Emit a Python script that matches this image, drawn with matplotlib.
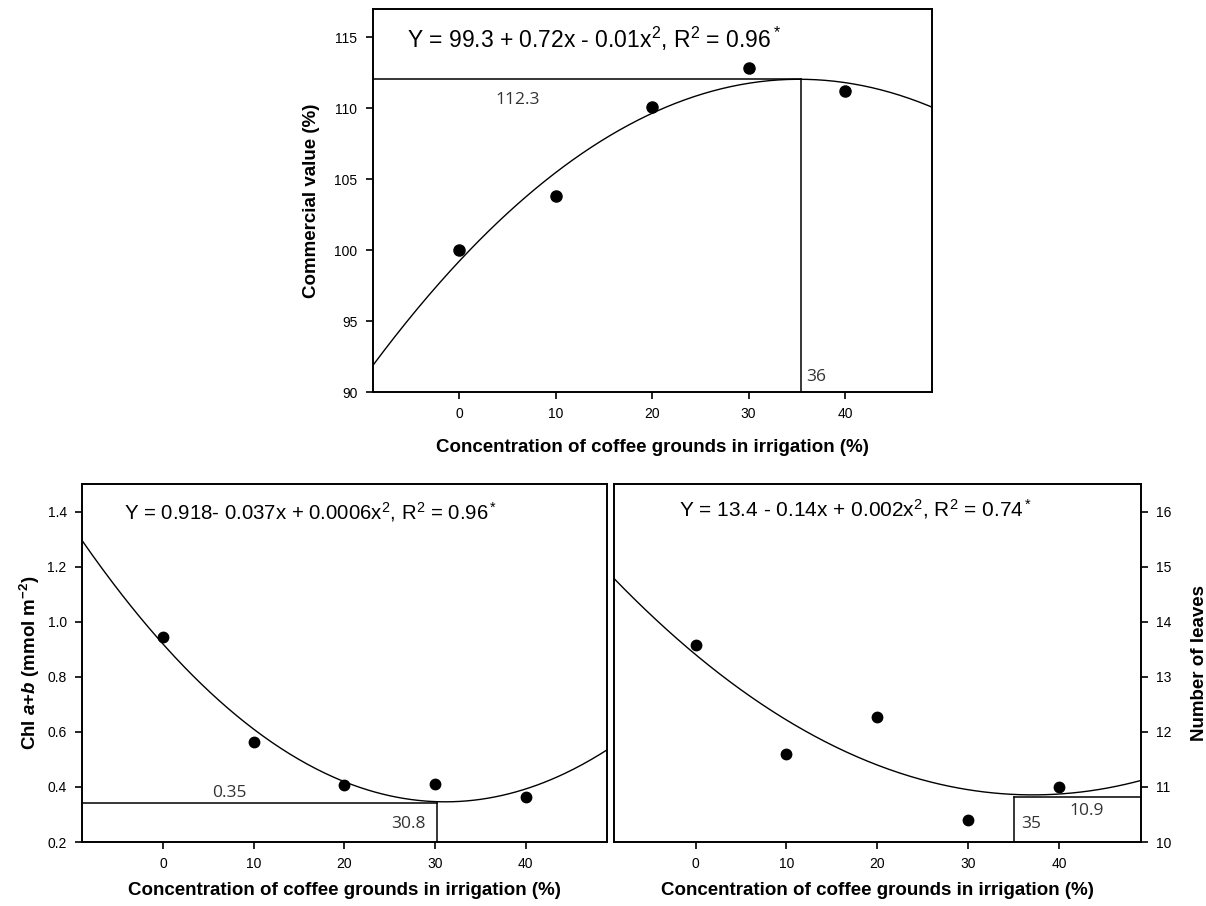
import numpy as np
import matplotlib
matplotlib.use("Agg")
import matplotlib.pyplot as plt

plt.rcParams["font.family"] = ["Liberation Sans", "DejaVu Sans"]
plt.rcParams["mathtext.fontset"] = "custom"
plt.rcParams["mathtext.rm"] = "Liberation Sans"
plt.rcParams["mathtext.it"] = "Liberation Sans:italic"
plt.rcParams["mathtext.bf"] = "Liberation Sans:bold"
plt.rcParams["mathtext.bfit"] = "Liberation Sans:bold:italic"

# data
conc = [0, 10, 20, 30, 40]
commercial = [100.0, 103.8, 110.1, 112.85, 111.2]
chl = [0.943, 0.562, 0.407, 0.410, 0.363]
leaves = [13.57, 11.59, 12.28, 10.40, 11.00]

# optimum guide lines (x, y) as drawn in the figure
opt_commercial = [35.4, 112.04]
opt_chl = [30.2, 0.343]
opt_leaves = [35.0, 10.82]

eq_top = r"Y = 99.3 + 0.72x - 0.01x$^2$, R$^2$ = 0.96$^*$"
eq_chl = r"Y = 0.918- 0.037x + 0.0006x$^2$, R$^2$ = 0.96$^*$"
eq_leaves = r"Y = 13.4 - 0.14x + 0.002x$^2$, R$^2$ = 0.74$^*$"

xlabel = "Concentration of coffee grounds in irrigation (%)"
xlim = (-9, 49)
xticks = [0, 10, 20, 30, 40]
note_font = "Open Sans"
note_col = "#333333"


def style(ax, right=False):
    for s in ax.spines.values():
        s.set_linewidth(1.4)
    ax.set_xlim(*xlim)
    ax.set_xticks(xticks)
    ax.tick_params(direction="out", length=5, width=1.2, labelsize=10, pad=6)
    if right:
        ax.yaxis.tick_right()
        ax.yaxis.set_label_position("right")


def fit(ax, x, y, ms):
    coef = np.polyfit(x, y, 2)
    xs = np.linspace(xlim[0], xlim[1], 300)
    ax.plot(xs, np.polyval(coef, xs), color="black", lw=1.0)
    ax.plot(x, y, "o", color="black", ms=ms)


fig = plt.figure(figsize=(12.06, 9.06), dpi=100)

# top panel
ax1 = fig.add_axes([0.309, 0.5673, 0.4635, 0.4227])
style(ax1)
ax1.set_ylim(90, 117)
ax1.set_yticks([90, 95, 100, 105, 110, 115])
fit(ax1, conc, commercial, 8)
xv, yv = opt_commercial
ax1.plot([xlim[0], xv], [yv, yv], color="black", lw=1.1)
ax1.plot([xv, xv], [90, yv], color="black", lw=1.1)
ax1.text(-5.4, 114.9, eq_top, fontsize=16.5, va="center", ha="left")
ax1.text(6.0, 110.56, "112.3", fontsize=12.5, family=note_font, color=note_col, ha="center", va="center")
ax1.text(xv + 0.6, 91.05, "36", fontsize=12.5, family=note_font, color=note_col, ha="left", va="center")
ax1.set_ylabel("Commercial value (%)", fontsize=13.5, fontweight="bold", labelpad=10)
ax1.set_xlabel(xlabel, fontsize=13.5, fontweight="bold", labelpad=13)

# bottom left panel
ax2 = fig.add_axes([0.068, 0.0706, 0.4353, 0.395])
style(ax2)
ax2.set_ylim(0.2, 1.5)
ax2.set_yticks([0.2, 0.4, 0.6, 0.8, 1.0, 1.2, 1.4])
ax2.set_yticklabels(["0.2", "0.4", "0.6", "0.8", "1.0", "1.2", "1.4"])
fit(ax2, conc, chl, 7.5)
xv, yv = opt_chl
ax2.plot([xlim[0], xv], [yv, yv], color="black", lw=1.1)
ax2.plot([xv, xv], [0.2, yv], color="black", lw=1.1)
ax2.text(-4.4, 1.40, eq_chl, fontsize=14.7, va="center", ha="left")
ax2.text(7.3, 0.378, "0.35", fontsize=12.5, family=note_font, color=note_col, ha="center", va="center")
ax2.text(29.0, 0.265, "30.8", fontsize=12.5, family=note_font, color=note_col, ha="right", va="center")
ax2.set_ylabel(r"Chl $\mathbfit{a}$+$\mathbfit{b}$ (mmol m$^{\mathbf{-2}}$)", fontsize=13.5,
               fontweight="bold", labelpad=4)
ax2.set_xlabel(xlabel, fontsize=13.5, fontweight="bold", labelpad=8)

# bottom right panel
ax3 = fig.add_axes([0.509, 0.0706, 0.437, 0.395])
style(ax3, right=True)
ax3.set_ylim(10, 16.5)
ax3.set_yticks([10, 11, 12, 13, 14, 15, 16])
fit(ax3, conc, leaves, 7.5)
xv, yv = opt_leaves
ax3.plot([xv, xlim[1]], [yv, yv], color="black", lw=1.1)
ax3.plot([xv, xv], [10, yv], color="black", lw=1.1)
ax3.text(-1.8, 16.04, eq_leaves, fontsize=15, va="center", ha="left")
ax3.text(xv + 0.8, 10.33, "35", fontsize=12.5, family=note_font, color=note_col, ha="left", va="center")
ax3.text(43.0, 10.56, "10.9", fontsize=12.5, family=note_font, color=note_col, ha="center", va="center")
ax3.set_ylabel("Number of leaves", fontsize=13.5, fontweight="bold", labelpad=14)
ax3.set_xlabel(xlabel, fontsize=13.5, fontweight="bold", labelpad=8)

fig.savefig("out.png", dpi=100)
